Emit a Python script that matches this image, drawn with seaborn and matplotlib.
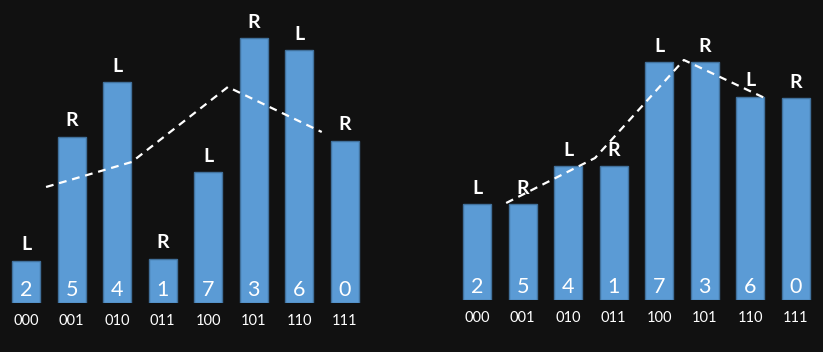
import matplotlib
matplotlib.use("Agg")
import matplotlib.pyplot as plt
import seaborn as sns
import pandas as pd

codes = ["000", "001", "010", "011", "100", "101", "110", "111"]
inner_digits = ["2", "5", "4", "1", "7", "3", "6", "0"]

left_heights = [42, 166, 221, 44, 131, 265, 253, 162]
left_sides = ["L", "R", "L", "R", "L", "R", "L", "R"]
left_line_x = [0.44, 2.32, 4.43, 6.49]
left_line_y = [116, 141, 216, 171]

right_heights = [96, 96, 134, 134, 238, 238, 203, 202]
right_sides = ["L", "R", "L", "R", "L", "R", "L", "R"]
right_line_x = [0.64, 2.59, 4.54, 6.36]
right_line_y = [97, 142, 240, 201]

BG = "#111111"
BAR = "#5B9BD5"
EDGE = "#41719C"

sns.set_theme(style="dark")
plt.rcParams["font.family"] = ["Lato", "DejaVu Sans"]

W, H = 823, 352
fig = plt.figure(figsize=(W / 100, H / 100), dpi=100, facecolor=BG)

spacing = 45.57
bar_w = 28 / spacing


def panel(px_left, px_right, px_bottom, center0, heights, sides, lx, ly):
    ax = fig.add_axes([px_left / W, (H - px_bottom) / H,
                       (px_right - px_left) / W, px_bottom / H])
    ax.set_facecolor(BG)
    df = pd.DataFrame({"code": codes, "h": heights})
    sns.barplot(data=df, x="code", y="h", order=codes, color=BAR,
                saturation=1, edgecolor=EDGE, linewidth=1.0, width=bar_w, ax=ax)
    sns.lineplot(x=lx, y=ly, ax=ax, color="white", linewidth=1.6,
                 sort=False, zorder=5)
    for ln in ax.lines:
        ln.set_dashes([3.5, 2.6])
    for i, (h, s, d) in enumerate(zip(heights, sides, inner_digits)):
        ax.text(i, h + 16, s, ha="center", va="center", color="white",
                fontsize=14, fontweight="bold", zorder=6)
        ax.text(i, 13, d, ha="center", va="center", color="white",
                fontsize=15.5, zorder=6)
    ax.set_xlim((px_left - center0) / spacing, (px_right - center0) / spacing)
    ax.set_ylim(0, px_bottom)
    ax.set_xlabel("")
    ax.set_ylabel("")
    ax.set_yticks([])
    ax.tick_params(axis="x", length=0, pad=8, labelsize=10.5, colors="white")
    for sp in ax.spines.values():
        sp.set_visible(False)
    ax.grid(False)
    return ax


panel(0, 411, 303, 26, left_heights, left_sides, left_line_x, left_line_y)
panel(411, 823, 300, 477, right_heights, right_sides, right_line_x, right_line_y)

fig.savefig("out.png", dpi=100, facecolor=BG)
